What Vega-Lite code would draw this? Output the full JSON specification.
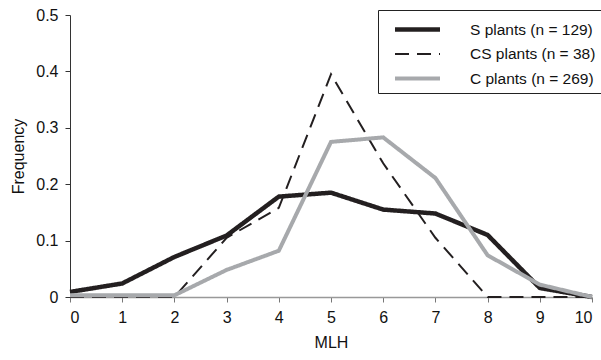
{
  "$schema": "https://vega.github.io/schema/vega-lite/v6.json",
  "autosize": "none",
  "width": 522,
  "height": 282,
  "padding": {"left": 70, "top": 15, "right": 9, "bottom": 63},
  "background": "white",
  "config": {
    "view": {"stroke": null},
    "font": "Liberation Sans",
    "axis": {"grid": false, "labelFont": "Liberation Sans", "titleFont": "Liberation Sans", "labelColor": "#111", "titleColor": "#111", "titleFontWeight": "normal"}
  },
  "data": {
    "values": [
      {"MLH": 0, "Frequency": 0.009, "series": "S plants (n = 129)"},
      {"MLH": 1, "Frequency": 0.024, "series": "S plants (n = 129)"},
      {"MLH": 2, "Frequency": 0.071, "series": "S plants (n = 129)"},
      {"MLH": 3, "Frequency": 0.109, "series": "S plants (n = 129)"},
      {"MLH": 4, "Frequency": 0.178, "series": "S plants (n = 129)"},
      {"MLH": 5, "Frequency": 0.185, "series": "S plants (n = 129)"},
      {"MLH": 6, "Frequency": 0.155, "series": "S plants (n = 129)"},
      {"MLH": 7, "Frequency": 0.148, "series": "S plants (n = 129)"},
      {"MLH": 8, "Frequency": 0.110, "series": "S plants (n = 129)"},
      {"MLH": 9, "Frequency": 0.016, "series": "S plants (n = 129)"},
      {"MLH": 10, "Frequency": 0.0, "series": "S plants (n = 129)"},
      {"MLH": 0, "Frequency": 0.0, "series": "CS plants (n = 38)"},
      {"MLH": 1, "Frequency": 0.0, "series": "CS plants (n = 38)"},
      {"MLH": 2, "Frequency": 0.0, "series": "CS plants (n = 38)"},
      {"MLH": 3, "Frequency": 0.105, "series": "CS plants (n = 38)"},
      {"MLH": 4, "Frequency": 0.158, "series": "CS plants (n = 38)"},
      {"MLH": 5, "Frequency": 0.395, "series": "CS plants (n = 38)"},
      {"MLH": 6, "Frequency": 0.237, "series": "CS plants (n = 38)"},
      {"MLH": 7, "Frequency": 0.105, "series": "CS plants (n = 38)"},
      {"MLH": 8, "Frequency": 0.0, "series": "CS plants (n = 38)"},
      {"MLH": 9, "Frequency": 0.0, "series": "CS plants (n = 38)"},
      {"MLH": 10, "Frequency": 0.0, "series": "CS plants (n = 38)"},
      {"MLH": 0, "Frequency": 0.003, "series": "C plants (n = 269)"},
      {"MLH": 1, "Frequency": 0.003, "series": "C plants (n = 269)"},
      {"MLH": 2, "Frequency": 0.003, "series": "C plants (n = 269)"},
      {"MLH": 3, "Frequency": 0.048, "series": "C plants (n = 269)"},
      {"MLH": 4, "Frequency": 0.082, "series": "C plants (n = 269)"},
      {"MLH": 5, "Frequency": 0.275, "series": "C plants (n = 269)"},
      {"MLH": 6, "Frequency": 0.283, "series": "C plants (n = 269)"},
      {"MLH": 7, "Frequency": 0.211, "series": "C plants (n = 269)"},
      {"MLH": 8, "Frequency": 0.074, "series": "C plants (n = 269)"},
      {"MLH": 9, "Frequency": 0.022, "series": "C plants (n = 269)"},
      {"MLH": 10, "Frequency": 0.0, "series": "C plants (n = 269)"}
    ]
  },
  "mark": {"type": "line", "strokeJoin": "miter", "strokeCap": "butt"},
  "encoding": {
    "x": {
      "field": "MLH", "type": "quantitative",
      "scale": {"domain": [0, 10], "nice": false, "zero": false},
      "axis": {"values": [0,1,2,3,4,5,6,7,8,9,10], "format": "d", "title": "MLH", "labelFontSize": 16, "titleFontSize": 16, "labelPadding": 7, "titlePadding": 9, "tickSize": 5, "domainColor": "#999", "tickColor": "#777", "domainWidth": 1.5}
    },
    "y": {
      "field": "Frequency", "type": "quantitative",
      "scale": {"domain": [0, 0.5], "nice": false},
      "axis": {"values": [0, 0.1, 0.2, 0.3, 0.4, 0.5], "labelExpr": "datum.value == 0 ? '0' : format(datum.value, '.1f')", "title": "Frequency", "labelFontSize": 16, "titleFontSize": 16, "labelPadding": 7, "titlePadding": 9, "tickSize": 5, "domainColor": "#333", "tickColor": "#333"}
    },
    "color": {
      "field": "series", "type": "nominal",
      "scale": {"domain": ["S plants (n = 129)", "CS plants (n = 38)", "C plants (n = 269)"], "range": ["#231f20", "#231f20", "#a7a9ac"]},
      "legend": {
        "title": null, "orient": "none", "legendX": 308, "legendY": -5,
        "strokeColor": "#222", "fillColor": "white", "padding": 6, "cornerRadius": 0,
        "symbolType": "M-2,0H2", "symbolSize": 506, "symbolOffset": 20, "labelFontSize": 15.5, "labelFont": "Liberation Sans", "labelColor": "#111",
        "labelOffset": 39, "rowPadding": 2.5, "labelLimit": 300
      }
    },
    "strokeDash": {
      "field": "series", "type": "nominal",
      "scale": {"domain": ["S plants (n = 129)", "CS plants (n = 38)", "C plants (n = 269)"], "range": [[1, 0], [14, 8], [1, 0]]}
    },
    "strokeWidth": {
      "field": "series", "type": "nominal",
      "scale": {"type": "ordinal", "domain": ["S plants (n = 129)", "CS plants (n = 38)", "C plants (n = 269)"], "range": [4.5, 2, 4]}
    }
  }
}
